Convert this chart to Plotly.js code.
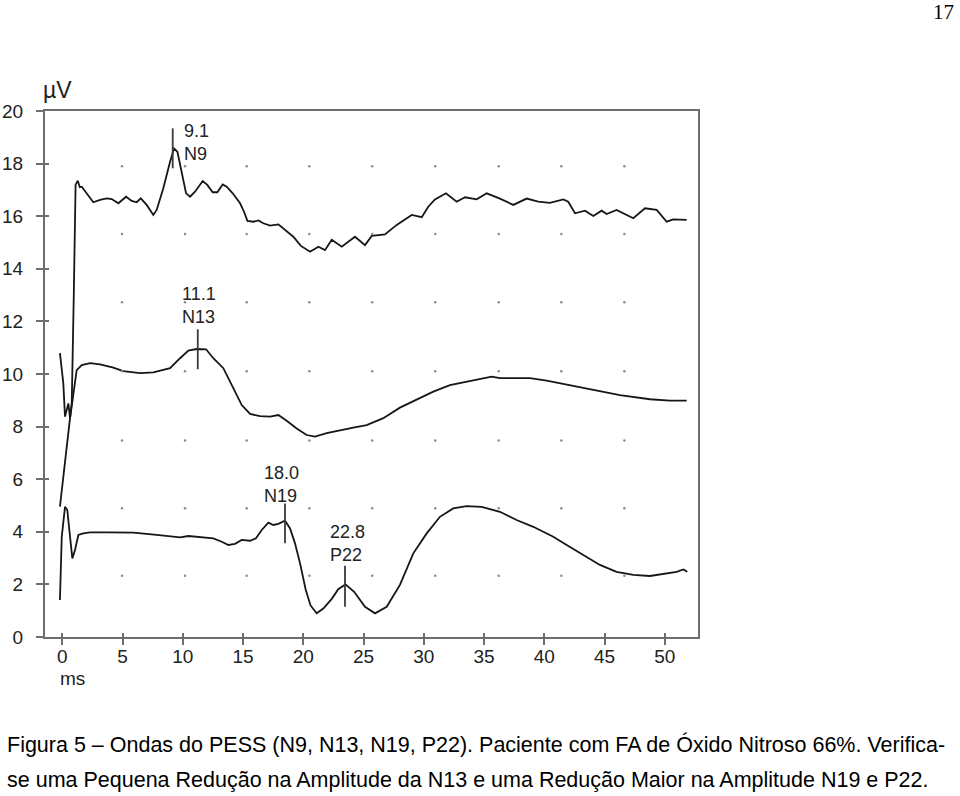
<!DOCTYPE html>
<html>
<head>
<meta charset="utf-8">
<script src="https://cdn.plot.ly/plotly-3.0.1.min.js"></script>
<style>html,body{margin:0;padding:0;background:#fff;}#chart{width:960px;height:796px;}</style>
</head>
<body>
<div id="chart"></div>
<script>
// ---- data (ms, µV) ----
const n9Time = [-0.2,0.3,0.78,0.95,1.1,1.28,1.45,1.61,2.02,2.57,3.13,3.68,4.1,4.65,5.29,5.76,6.17,6.51,7.0,7.55,7.83,8.38,8.94,9.27,9.55,9.91,10.27,10.6,11.01,11.65,12.03,12.48,12.86,13.31,13.64,14.14,14.75,15.08,15.36,15.86,16.27,16.68,17.24,17.93,18.34,19.17,19.8,20.56,21.25,21.8,22.36,23.19,24.29,25.12,25.68,26.78,27.75,29.0,29.83,30.37,30.93,31.84,32.73,33.42,34.39,35.22,36.32,37.43,38.54,39.5,40.47,41.58,41.99,42.55,43.38,44.07,44.76,45.18,46.0,46.7,47.39,48.36,49.33,50.16,50.71,51.82];
const n9Volt = [4.96,6.9,8.9,13.0,17.2,17.35,17.1,17.12,16.87,16.53,16.62,16.68,16.65,16.49,16.74,16.58,16.53,16.68,16.43,16.05,16.24,17.06,18.07,18.58,18.45,17.69,16.87,16.74,16.93,17.34,17.19,16.91,16.91,17.21,17.12,16.87,16.49,16.17,15.82,15.79,15.84,15.73,15.64,15.69,15.54,15.22,14.87,14.65,14.84,14.71,15.1,14.84,15.22,14.9,15.25,15.31,15.67,16.05,15.96,16.36,16.64,16.87,16.55,16.72,16.64,16.87,16.67,16.43,16.67,16.55,16.51,16.64,16.55,16.11,16.21,16.01,16.21,16.08,16.24,16.08,15.92,16.3,16.24,15.79,15.88,15.86];

const n13Time = [-0.2,0.08,0.22,0.5,0.64,0.91,1.19,1.61,2.3,3.13,4.23,5.06,6.45,7.55,8.94,9.77,10.46,11.15,11.93,12.53,13.36,14.19,14.89,15.58,16.41,17.24,17.93,18.62,19.45,20.28,20.97,21.94,23.05,24.15,25.26,26.64,28.02,29.41,30.79,32.17,34.11,35.63,36.32,38.81,40.2,42.13,44.07,46.28,48.77,50.43,51.82];
const n13Volt = [10.79,9.65,8.38,8.88,8.32,9.14,10.15,10.34,10.41,10.37,10.24,10.11,10.03,10.06,10.22,10.6,10.89,10.95,10.94,10.6,10.22,9.46,8.82,8.48,8.4,8.38,8.44,8.22,7.93,7.68,7.62,7.75,7.87,7.96,8.06,8.32,8.72,9.03,9.33,9.58,9.75,9.9,9.84,9.84,9.75,9.58,9.39,9.2,9.04,8.99,8.99];

const n19Time = [-0.2,-0.05,0.22,0.41,0.64,0.83,1.05,1.33,1.74,2.3,3.68,5.89,7.83,9.77,10.46,12.53,13.23,13.78,14.33,14.89,15.58,16.07,16.55,17.1,17.51,17.93,18.48,18.9,19.31,19.73,20.2,20.6,21.11,21.66,22.36,22.9,23.5,24.22,25.12,25.95,26.92,28.02,29.13,30.24,31.34,32.44,33.55,34.8,36.32,37.7,39.09,40.75,41.86,43.24,44.62,46.0,47.39,48.77,50.16,50.99,51.54,51.87];
const n19Volt = [1.41,3.81,4.95,4.83,3.81,2.99,3.31,3.88,3.94,3.98,3.98,3.97,3.88,3.79,3.84,3.75,3.62,3.5,3.54,3.69,3.66,3.75,4.07,4.35,4.26,4.3,4.42,4.13,3.56,2.8,1.8,1.2,0.9,1.08,1.45,1.82,2.0,1.72,1.15,0.9,1.15,1.98,3.18,3.94,4.57,4.89,4.98,4.95,4.76,4.45,4.19,3.81,3.5,3.12,2.74,2.48,2.36,2.32,2.42,2.48,2.57,2.48];

// peak markers
const peakNames = ["N9","N13","N19","P22"];
const peakLatency = ["9.1","11.1","18.0","22.8"];
const peakTime = [9.16,11.24,18.48,23.46];
const peakTop = [19.34,11.7,5.08,2.71];
const peakBottom = [17.82,10.18,3.56,1.15];
// label anchor (left edge, centre) for each peak label
const labelTime = [9.95,9.8,16.6,22.05];
const labelVolt = [18.79,12.59,5.79,3.56];

// grid dots of the recording screen
const dotTimes = [4.95,10.18,15.3,20.5,25.72,30.95,36.22,41.42,46.65];
const dotVolts = [17.9,15.32,12.73,10.1,7.47,4.9,2.33];

const xTicks = [0,5,10,15,20,25,30,35,40,45,50];
const yTicks = [0,2,4,6,8,10,12,14,16,18,20];

const caption1 = "Figura 5 – Ondas do PESS (N9, N13, N19, P22). Paciente com FA de Óxido Nitroso 66%. Verifica-";
const caption2 = "se uma Pequena Redução na Amplitude da N13 e uma Redução Maior na Amplitude N19 e P22.";

// ---- build ----
const traceColor = "#161616";
const axisColor = "#6e6e6e";
const sans = "Liberation Sans, Arial, sans-serif";
const dx = [], dy = [];
dotTimes.forEach(t => dotVolts.forEach(v => { dx.push(t); dy.push(v); }));

const traces = [
  {x: dx, y: dy, xaxis: "x2", yaxis: "y2", mode: "markers", type: "scatter",
   marker: {size: 2.5, color: "#8a8a8a"}, hoverinfo: "skip"},
  {x: n9Time, y: n9Volt, mode: "lines", line: {color: traceColor, width: 1.8}},
  {x: n13Time, y: n13Volt, mode: "lines", line: {color: traceColor, width: 1.8}},
  {x: n19Time, y: n19Volt, mode: "lines", line: {color: traceColor, width: 1.8}}
];
peakTime.forEach((t, i) => {
  traces.push({x: [t, t], y: [peakBottom[i], peakTop[i]], mode: "lines",
    line: {color: "#3a3a3a", width: 1.8}, name: peakNames[i]});
});

const annotations = peakNames.map((n, i) => ({
  x: labelTime[i], y: labelVolt[i], xref: "x", yref: "y",
  text: peakLatency[i] + "<br>" + n, showarrow: false, xanchor: "left", yanchor: "middle",
  align: "left", font: {family: sans, size: 18, color: "#222"}
}));
annotations.push(
  {x: -0.006, y: 1.04, xref: "paper", yref: "paper", text: "µV", showarrow: false,
   xanchor: "left", yanchor: "middle", font: {family: sans, size: 23, color: "#222"}},
  {x: -0.35, y: -0.078, xref: "x", yref: "paper", text: "ms", showarrow: false,
   xanchor: "left", yanchor: "middle", font: {family: sans, size: 19, color: "#222"}},
  {x: -0.0613, y: -0.2053, xref: "paper", yref: "paper", text: caption1, showarrow: false,
   xanchor: "left", yanchor: "middle", font: {family: sans, size: 21.5, color: "#000"}},
  {x: -0.0613, y: -0.2719, xref: "paper", yref: "paper", text: caption2, showarrow: false,
   xanchor: "left", yanchor: "middle", font: {family: sans, size: 21.5, color: "#000"}},
  {x: 1.395, y: 1.188, xref: "paper", yref: "paper", text: "17", showarrow: false,
   xanchor: "right", yanchor: "middle", font: {family: "Liberation Serif, Times New Roman, serif", size: 21, color: "#000"}}
);

const xr = [-1.44, 52.76], yr = [0, 20];
const tickFont = {family: sans, size: 19, color: "#222"};
const layout = {
  width: 960, height: 796,
  margin: {l: 45, r: 262, t: 111, b: 159, pad: 0},
  paper_bgcolor: "#fff", plot_bgcolor: "#fff",
  showlegend: false,
  xaxis: {range: xr, tickvals: xTicks, ticktext: xTicks.map(String), ticks: "outside", ticklen: 6,
    tickwidth: 2, tickcolor: axisColor, showline: true, linecolor: axisColor, linewidth: 2,
    mirror: true, showgrid: false, zeroline: false, tickfont: tickFont, ticklabelstandoff: -5},
  yaxis: {range: yr, tickvals: yTicks, ticktext: yTicks.map(String), ticks: "outside", ticklen: 7,
    tickwidth: 2, tickcolor: axisColor, showline: true, linecolor: axisColor, linewidth: 2,
    mirror: true, showgrid: false, zeroline: false, tickfont: tickFont, ticklabelstandoff: 9},
  xaxis2: {range: xr, overlaying: "x", anchor: "y2", tickvals: xTicks, ticks: "inside", ticklen: 4,
    tickwidth: 2, tickcolor: axisColor, showticklabels: false, showline: false, showgrid: false, zeroline: false},
  yaxis2: {range: yr, overlaying: "y", anchor: "x2", tickvals: yTicks, ticks: "inside", ticklen: 4,
    tickwidth: 2, tickcolor: axisColor, showticklabels: false, showline: false, showgrid: false, zeroline: false},
  annotations: annotations
};
Plotly.newPlot("chart", traces, layout, {staticPlot: true, displayModeBar: false});
</script>
</body>
</html>
